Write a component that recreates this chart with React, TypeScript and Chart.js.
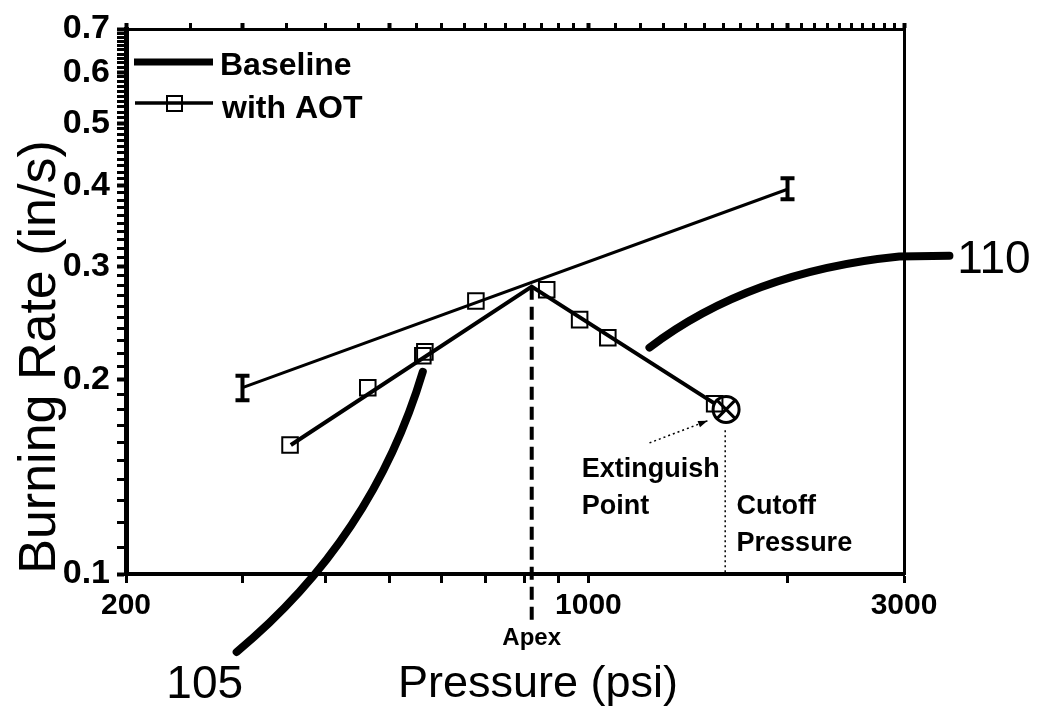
import React, { useEffect, useRef } from "react";
import { Chart, registerables } from "chart.js";

Chart.register(...registerables);

// ---------- data ----------
const baselinePressure = [300, 2000];
const baselineRate = [0.1945, 0.395];
const baselineRateLow = [0.186, 0.381];
const baselineRateHigh = [0.203, 0.411];

const aotFitPressure = [355, 821, 1555];
const aotFitRate = [0.1585, 0.279, 0.1836];

const aotPressure = [354, 464, 562, 566, 676, 865, 970, 1070, 1552];
const aotRate = [0.1585, 0.1945, 0.218, 0.221, 0.265, 0.276, 0.248, 0.2325, 0.1836];

const extinguishPressure = [1615];
const extinguishRate = [0.18];

const apexPressure = 821;
const apexRate = 0.279;
const cutoffPressure = 1610;

const xTickValues = [200, 300, 400, 500, 600, 700, 800, 900, 1000, 2000, 3000];
const xTickLabels = ["200", "", "", "", "", "", "", "", "1000", "", "3000"];
const xMajor = [200, 1000, 3000];

const topTickValues = [
  200, 250, 300, 350, 400, 450, 500, 550, 600, 650, 700, 750, 800, 850, 900, 950, 1000,
  1100, 1200, 1300, 1400, 1500, 1600, 1700, 1800, 1900, 2000, 2100, 2200, 2300, 2400,
  2500, 2600, 2700, 2800, 2900, 3000,
];
const topMajor = [200, 300, 500, 1000, 2000, 3000];

const yMajorValues = [0.1, 0.2, 0.3, 0.4, 0.5, 0.6, 0.7];
const yMajorLabels = ["0.1", "0.2", "0.3", "0.4", "0.5", "0.6", "0.7"];
const yTickValues: number[] = [];
for (let i = 10; i <= 70; i++) yTickValues.push(i / 100);

const legendLabels = ["Baseline", "with AOT"];
const xTitle = "Pressure (psi)";
const yTitle = "Burning Rate (in/s)";

const FONT = '"Liberation Sans", Arial, Helvetica, sans-serif';

const toXY = (xs: number[], ys: number[]) => xs.map((x, i) => ({ x, y: ys[i] }));

const annotationPlugin = {
  id: "annotations",
  afterDatasetsDraw(chart: any) {
    const { ctx, scales } = chart;
    const X = (v: number) => scales.x.getPixelForValue(v);
    const Y = (v: number) => scales.y.getPixelForValue(v);
    ctx.save();
    ctx.strokeStyle = "#000";
    ctx.fillStyle = "#000";
    ctx.lineCap = "butt";

    // error bars on the baseline
    ctx.lineWidth = 4;
    for (let i = 0; i < baselinePressure.length; i++) {
      const px = X(baselinePressure[i]);
      const lo = Y(baselineRateLow[i]);
      const hi = Y(baselineRateHigh[i]);
      ctx.beginPath();
      ctx.moveTo(px, lo);
      ctx.lineTo(px, hi);
      ctx.moveTo(px - 7, lo);
      ctx.lineTo(px + 7, lo);
      ctx.moveTo(px - 7, hi);
      ctx.lineTo(px + 7, hi);
      ctx.stroke();
    }

    // apex dashed line
    ctx.setLineDash([13, 7]);
    ctx.lineWidth = 4;
    ctx.beginPath();
    ctx.moveTo(X(apexPressure), Y(apexRate));
    ctx.lineTo(X(apexPressure), Y(0.0842));
    ctx.stroke();

    // cutoff dotted line
    ctx.setLineDash([2, 3]);
    ctx.lineWidth = 1.5;
    ctx.beginPath();
    ctx.moveTo(X(cutoffPressure), Y(0.167));
    ctx.lineTo(X(cutoffPressure), Y(0.1));
    ctx.stroke();

    // dotted arrow to extinguish point
    const ax0 = X(1237), ay0 = Y(0.1597);
    const ax1 = X(1514), ay1 = Y(0.1728);
    ctx.beginPath();
    ctx.moveTo(ax0, ay0);
    ctx.lineTo(ax1, ay1);
    ctx.stroke();
    ctx.setLineDash([]);
    const ang = Math.atan2(ay1 - ay0, ax1 - ax0);
    ctx.beginPath();
    ctx.moveTo(ax1, ay1);
    ctx.lineTo(ax1 - 10 * Math.cos(ang - 0.35), ay1 - 10 * Math.sin(ang - 0.35));
    ctx.lineTo(ax1 - 10 * Math.cos(ang + 0.35), ay1 - 10 * Math.sin(ang + 0.35));
    ctx.closePath();
    ctx.fill();

    // leader curves 105 and 110
    ctx.lineWidth = 8;
    ctx.lineCap = "round";
    ctx.beginPath();
    ctx.moveTo(X(294), Y(0.0757));
    ctx.quadraticCurveTo(X(472), Y(0.1133), X(562), Y(0.2059));
    ctx.stroke();
    ctx.beginPath();
    ctx.moveTo(X(1237), Y(0.2244));
    ctx.quadraticCurveTo(X(1753), Y(0.2944), X(2952), Y(0.3106));
    ctx.lineTo(X(3514), Y(0.3114));
    ctx.stroke();

    // texts
    ctx.textBaseline = "alphabetic";
    ctx.font = `46px ${FONT}`;
    ctx.textAlign = "center";
    ctx.fillText("105", X(263), 698);
    ctx.textAlign = "left";
    ctx.fillText("110", X(3612), Y(0.3114) + 17);

    ctx.font = `bold 24px ${FONT}`;
    ctx.textAlign = "center";
    ctx.fillText("Apex", X(apexPressure), 645);

    ctx.font = `bold 27px ${FONT}`;
    ctx.textAlign = "left";
    ctx.fillText("Extinguish", X(977), Y(0.1415));
    ctx.fillText("Point", X(977), Y(0.1238));
    ctx.fillText("Cutoff", X(1675), Y(0.1238));
    ctx.fillText("Pressure", X(1675), Y(0.1086));

    ctx.restore();
  },
  afterDraw(chart: any) {
    const { ctx, chartArea } = chart;
    ctx.save();
    ctx.fillStyle = "#000";
    ctx.strokeStyle = "#000";
    // legend
    const lx = chartArea.left;
    const ly = chartArea.top;
    ctx.lineWidth = 7;
    ctx.beginPath();
    ctx.moveTo(lx + 8, ly + 33);
    ctx.lineTo(lx + 87, ly + 33);
    ctx.stroke();
    ctx.lineWidth = 3.5;
    ctx.beginPath();
    ctx.moveTo(lx + 9, ly + 74);
    ctx.lineTo(lx + 87, ly + 74);
    ctx.stroke();
    ctx.lineWidth = 2;
    ctx.strokeRect(lx + 41, ly + 67, 15, 15);
    ctx.font = `bold 32px ${FONT}`;
    ctx.textBaseline = "alphabetic";
    ctx.textAlign = "left";
    ctx.fillText(legendLabels[0], lx + 94, ly + 46);
    ctx.fillText(legendLabels[1], lx + 96, ly + 89);

    // axis titles
    ctx.font = `45px ${FONT}`;
    ctx.textAlign = "center";
    ctx.fillText(xTitle, 538, 697);
    ctx.translate(55, 357);
    ctx.rotate(-Math.PI / 2);
    ctx.font = `52px ${FONT}`;
    ctx.fillText(yTitle, 0, 0);
    ctx.restore();
  },
};

const xTickFont = { family: FONT, size: 30, weight: "bold" as const };
const yTickFont = { family: FONT, size: 34, weight: "bold" as const };

export default function App() {
  const ref = useRef<HTMLCanvasElement>(null);
  useEffect(() => {
    const chart = new Chart(ref.current as HTMLCanvasElement, {
      type: "line",
      data: {
        datasets: [
          {
            label: legendLabels[0],
            data: toXY(baselinePressure, baselineRate),
            borderColor: "#000",
            borderWidth: 3,
            pointRadius: 0,
          },
          {
            label: legendLabels[1] + " fit",
            data: toXY(aotFitPressure, aotFitRate),
            borderColor: "#000",
            borderWidth: 4,
            pointRadius: 0,
          },
          {
            label: legendLabels[1],
            data: toXY(aotPressure, aotRate),
            showLine: false,
            pointStyle: "rect",
            pointRadius: 11,
            pointBorderWidth: 2,
            pointBorderColor: "#000",
            pointBackgroundColor: "rgba(0,0,0,0)",
          },
          {
            label: "Extinguish",
            data: toXY(extinguishPressure, extinguishRate),
            showLine: false,
            pointStyle: "circle",
            pointRadius: 13,
            pointBorderWidth: 3,
            pointBorderColor: "#000",
            pointBackgroundColor: "rgba(0,0,0,0)",
          },
          {
            label: "Extinguish X",
            data: toXY(extinguishPressure, extinguishRate),
            showLine: false,
            pointStyle: "crossRot",
            pointRadius: 13,
            pointBorderWidth: 3,
            pointBorderColor: "#000",
          },
        ],
      },
      options: {
        responsive: false,
        animation: false,
        events: [],
        layout: { padding: 0 },
        plugins: { legend: { display: false }, tooltip: { enabled: false } },
        scales: {
          x: {
            type: "logarithmic",
            position: "bottom",
            min: 200,
            max: 3000,
            afterBuildTicks: (s: any) => {
              s.ticks = xTickValues.map((v) => ({ value: v, major: xMajor.includes(v) }));
            },
            afterFit: (s: any) => {
              s.height = 133;
            },
            ticks: {
              autoSkip: false,
              maxRotation: 0,
              minRotation: 0,
              padding: 5,
              color: "#000",
              font: xTickFont,
              callback: (v: any) => {
                const i = xTickValues.indexOf(Number(v));
                return i >= 0 ? xTickLabels[i] : "";
              },
            },
            grid: {
              drawOnChartArea: false,
              tickLength: 9,
              tickColor: "#000",
              tickWidth: 3,
            },
            border: { display: true, color: "#000", width: 4 },
          },
          x2: {
            type: "logarithmic",
            position: "top",
            min: 200,
            max: 3000,
            afterBuildTicks: (s: any) => {
              s.ticks = topTickValues.map((v) => ({ value: v, major: topMajor.includes(v) }));
            },
            afterFit: (s: any) => {
              s.height = 29;
            },
            ticks: { display: false, autoSkip: false },
            grid: {
              drawOnChartArea: false,
              tickLength: 6,
              tickColor: "#000",
              tickWidth: (c: any) => (c.tick && c.tick.major ? 4 : 3),
            },
            border: { display: true, color: "#000", width: 3 },
          },
          y: {
            type: "logarithmic",
            position: "left",
            min: 0.1,
            max: 0.7,
            afterBuildTicks: (s: any) => {
              s.ticks = yTickValues.map((v) => ({
                value: v,
                major: yMajorValues.some((m) => Math.abs(m - v) < 1e-9),
              }));
            },
            afterFit: (s: any) => {
              s.width = 126;
            },
            ticks: {
              autoSkip: false,
              padding: 7,
              color: "#000",
              font: yTickFont,
              callback: (v: any) => {
                const i = yMajorValues.findIndex((m) => Math.abs(m - Number(v)) < 1e-9);
                return i >= 0 ? yMajorLabels[i] : "";
              },
            },
            grid: {
              drawOnChartArea: false,
              tickLength: 9,
              tickColor: "#000",
              tickWidth: (c: any) => (c.tick && c.tick.major ? 4 : 3),
            },
            border: { display: true, color: "#000", width: 5 },
          },
          y2: {
            type: "linear",
            position: "right",
            afterFit: (s: any) => {
              s.width = 137;
            },
            ticks: { display: false },
            grid: { drawOnChartArea: false, drawTicks: false },
            border: { display: true, color: "#000", width: 3 },
          },
        },
      },
      plugins: [annotationPlugin],
    } as any);
    return () => chart.destroy();
  }, []);
  return (
    <div style={{ position: "absolute", left: 0, top: 0, width: 1041, height: 707, background: "#fff" }}>
      <canvas ref={ref} width={1041} height={707} style={{ display: "block", width: 1041, height: 707 }} />
    </div>
  );
}
